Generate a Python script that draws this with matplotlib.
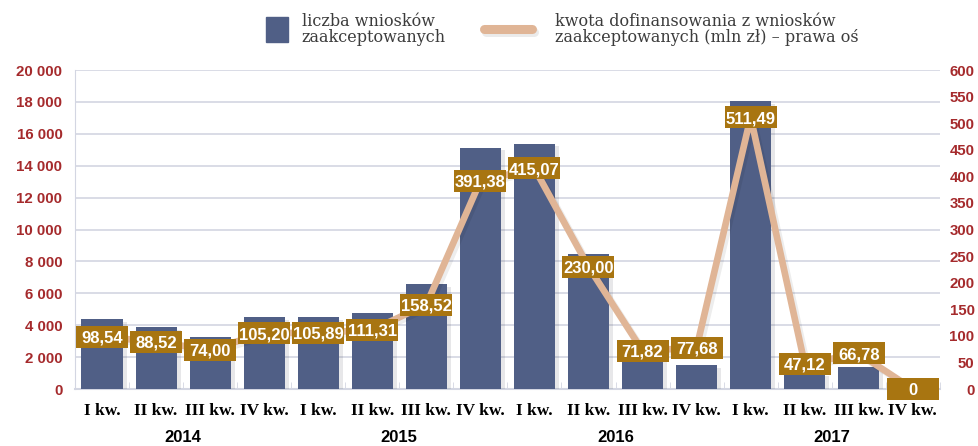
import matplotlib
matplotlib.use('Agg')
import matplotlib.pyplot as plt
import matplotlib.patheffects as pe
import matplotlib.transforms as mtrans
import numpy as np

# dane
kwartaly = ['I kw.', 'II kw.', 'III kw.', 'IV kw.'] * 4
lata = ['2014', '2015', '2016', '2017']
liczba_wnioskow = [4370, 3870, 3250, 4500, 4500, 4750, 6560, 15130,
                   15380, 8440, 3000, 1500, 18060, 1000, 1400, 0]
kwota = [98.54, 88.52, 74.00, 105.20, 105.89, 111.31, 158.52, 391.38,
         415.07, 230.00, 71.82, 77.68, 511.49, 47.12, 66.78, 0]

kolor_slupka = '#505f86'
kolor_linii = '#e0b596'
kolor_etykiety = '#a87511'
kolor_osi = '#a52a2c'
kolor_siatki = '#d3d6e2'
sans = 'Liberation Sans'

fig = plt.figure(figsize=(9.79, 4.46), dpi=100)
ax = fig.add_axes([0.0766, 0.1278, 0.8834, 0.7152])
ax2 = ax.twinx()

x = np.arange(len(kwartaly))
ax.bar(x, liczba_wnioskow, width=0.76, color=kolor_slupka, zorder=3,
       path_effects=[pe.SimplePatchShadow(offset=(3, -2), alpha=0.1), pe.Normal()])

ax.set_xlim(-0.5, len(x) - 0.5)
ax.set_ylim(0, 20000)
ax.set_yticks(range(0, 20001, 2000))
ax.set_yticklabels([f'{v:,}'.replace(',', ' ') for v in range(0, 20001, 2000)])
ax.grid(axis='y', color=kolor_siatki, lw=1.2, zorder=0)
ax.set_axisbelow(True)

ax2.set_ylim(0, 600)
ax2.set_yticks(range(0, 601, 50))
ax2.plot(x, kwota, color=kolor_linii, lw=4.8, zorder=4, solid_capstyle='round',
         path_effects=[pe.SimpleLineShadow(offset=(2, -2), alpha=0.07), pe.Normal()])

# etykiety wartości - pudełka o stałej szerokości
for xi, v in zip(x, kwota):
    txt = f'{v:.2f}'.replace('.', ',') if v != 0 else '0'
    tr = fig.dpi_scale_trans + mtrans.ScaledTranslation(xi, v, ax2.transData)
    ax2.add_patch(plt.Rectangle((-0.26, -0.11), 0.52, 0.22, transform=tr,
                                fc=kolor_etykiety, ec='none', zorder=5, clip_on=False))
    ax2.text(xi, v, txt, ha='center', va='center_baseline', color='white', fontsize=12,
             family=sans, fontweight='bold', zorder=6, clip_on=False)

for a in (ax, ax2):
    for s in ('top', 'right', 'left'):
        a.spines[s].set_visible(False)
ax.spines['left'].set_visible(True)
ax.spines['left'].set_color(kolor_siatki)
ax.spines['bottom'].set_color(kolor_siatki)
ax.spines['bottom'].set_linewidth(1.5)
ax2.spines['bottom'].set_visible(False)

ax.tick_params(axis='y', length=0, pad=9, labelcolor=kolor_osi)
ax2.tick_params(axis='y', length=0, pad=25, labelcolor=kolor_osi)
for lab in ax.get_yticklabels() + ax2.get_yticklabels():
    lab.set_fontweight('bold')
    lab.set_family(sans)
    lab.set_fontsize(10.8)
for lab in ax2.get_yticklabels():
    lab.set_horizontalalignment('right')

ax.set_xticks(x)
ax.set_xticklabels(kwartaly, family='Liberation Serif', fontweight='bold', fontsize=12.5)
ax.set_xticks(np.arange(-0.5, len(x), 1), minor=True)
ax.tick_params(axis='x', which='major', length=0, pad=10)
ax.tick_params(axis='x', which='minor', length=5, color=kolor_siatki, direction='in')

for i, rok in enumerate(lata):
    ax.text(i * 4 + 1.5, -0.152, rok, transform=ax.get_xaxis_transform(),
            ha='center', va='center', fontsize=12, family=sans, fontweight='bold')

# legenda
fig.patches.append(plt.Rectangle((0.272, 0.905), 0.022, 0.058, color=kolor_slupka,
                                 transform=fig.transFigure))
fig.text(0.308, 0.934, 'liczba wniosków\nzaakceptowanych', family='DejaVu Serif',
         fontsize=11.5, color='#3c3c3c', va='center', linespacing=0.95)
fig.lines.append(plt.Line2D([0.494, 0.543], [0.935, 0.935], color=kolor_linii, lw=6.5,
                            solid_capstyle='round', transform=fig.transFigure,
                            path_effects=[pe.SimpleLineShadow(offset=(1.5, -2), alpha=0.08), pe.Normal()]))
fig.text(0.567, 0.934, 'kwota dofinansowania z wniosków\nzaakceptowanych (mln zł) – prawa oś',
         family='DejaVu Serif', fontsize=11.5, color='#3c3c3c', va='center',
         linespacing=0.95)

fig.savefig('out.png', dpi=100)
